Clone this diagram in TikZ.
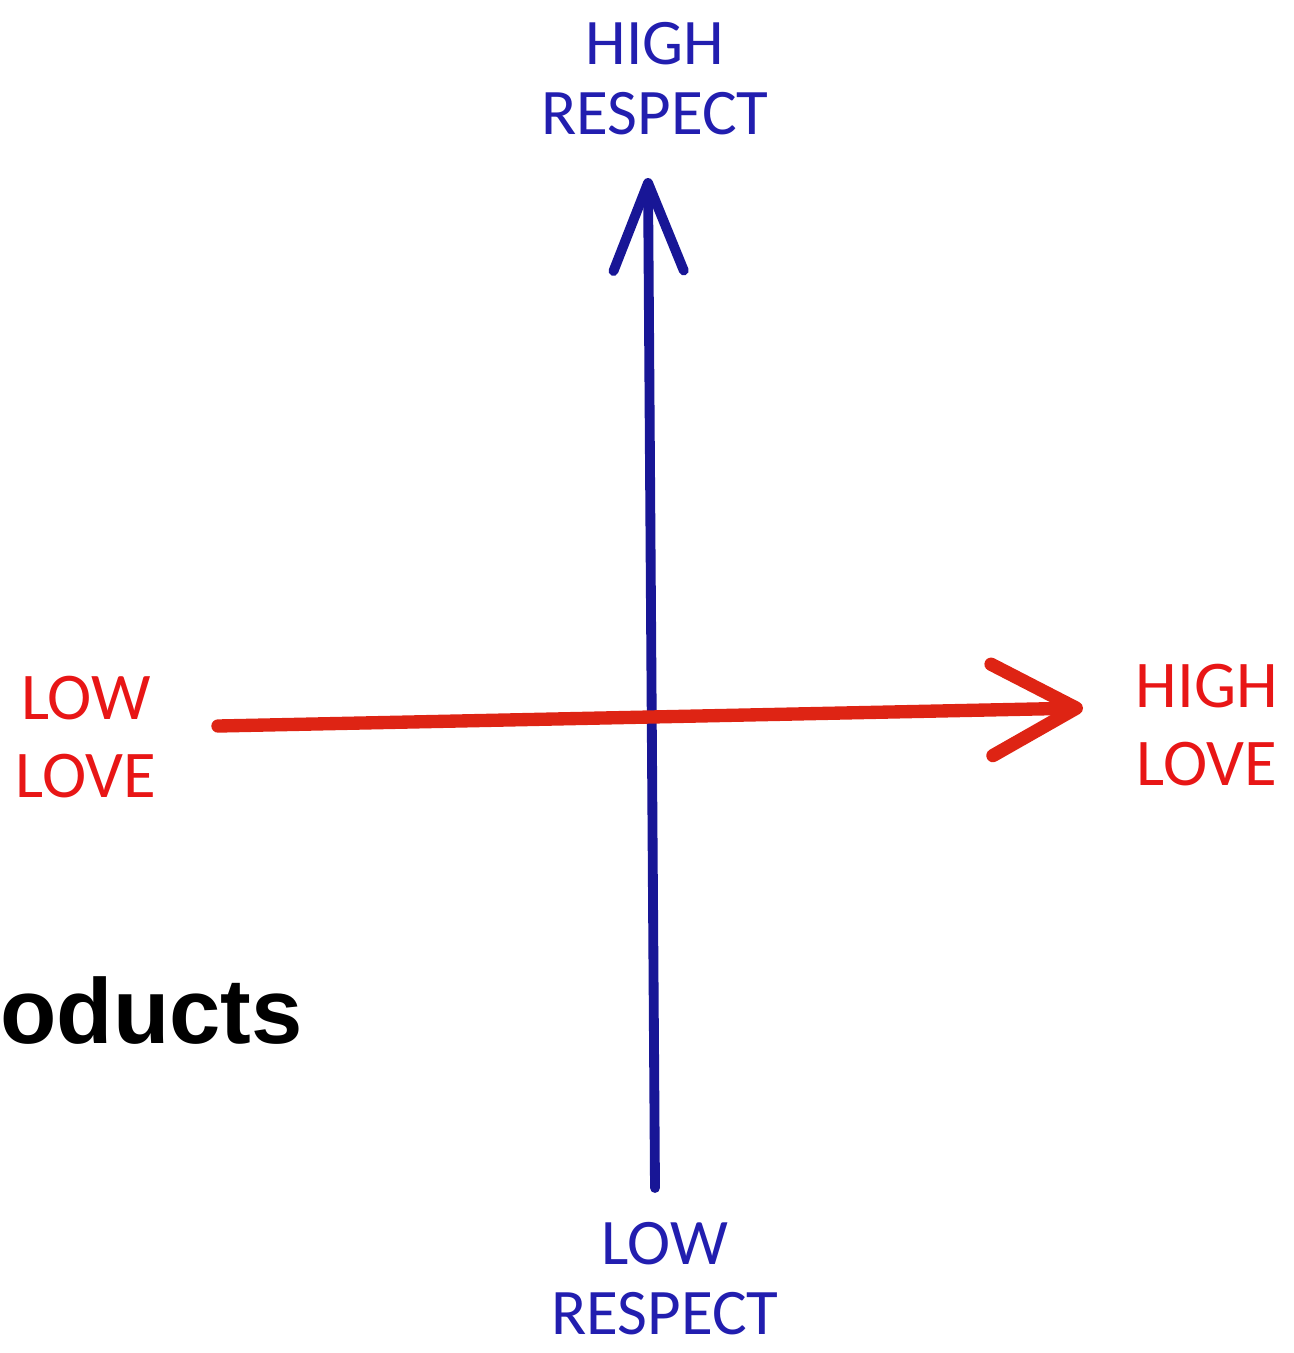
\documentclass[tikz,border=0pt]{standalone}
\usepackage{fontspec}
\usepackage{tikz}
\usepackage{xcolor}
\usetikzlibrary{arrows.meta,positioning}
\setmainfont{Carlito}
\newfontfamily\headfont{Liberation Sans}
\definecolor{penblue}{RGB}{24,22,150}
\definecolor{inkblue}{RGB}{34,30,175}
\definecolor{penred}{RGB}{222,36,20}
\definecolor{inkred}{RGB}{232,22,22}

\begin{document}
\begin{tikzpicture}[x=0.02cm,y=-0.02cm,
  bluelabel/.style={text=inkblue,font=\fontsize{37}{40}\selectfont,align=center,inner sep=0pt},
  redlabel/.style={text=inkred,font=\fontsize{38}{44}\selectfont,align=center,inner sep=0pt},
  respectaxis/.style={draw=penblue,line width=5.6pt,line cap=round,
    -{Straight Barb[length=50pt 0 0,width=40pt 0 0,round]}},
  loveaxis/.style={draw=penred,line width=7.6pt,line cap=round,
    -{Straight Barb[length=48pt 0 0,width=52pt 0 0,round]}}]
  \useasboundingbox (0,0) rectangle (1294,1353);

  % axes
  \coordinate (respectlow) at (655,1188);
  \coordinate (respecthigh) at (648,178);
  \coordinate (lovelow) at (218,726);
  \coordinate (lovehigh) at (1083,708);
  \draw[respectaxis] (respectlow) -- (respecthigh);
  \draw[loveaxis] (lovelow) -- (lovehigh);

  % labels
  \node[bluelabel,anchor=north] (highrespect) at (655,22) {HIGH\\RESPECT};
  \node[bluelabel,anchor=north] (lowrespect) at (665,1222) {LOW\\RESPECT};
  \node[redlabel] (lowlove) at (86,737) {LOW\\LOVE};
  \node[redlabel] (highlove) at (1207,725) {HIGH\\LOVE};

  % cut-off heading
  \node[anchor=base west,inner sep=0pt,font=\headfont\bfseries\fontsize{52.5}{58}\selectfont] (heading) at (0,1043) {oducts};
\end{tikzpicture}
\end{document}
